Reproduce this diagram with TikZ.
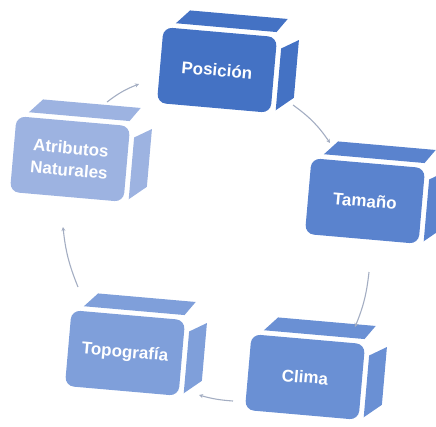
\documentclass[tikz,border=0pt]{standalone}
\usepackage{fontspec}
\setmainfont{Liberation Sans}
\usepackage{xcolor}
\usepackage{tikz}
\usetikzlibrary{arrows.meta}

\definecolor{posblue}{HTML}{4472C4}
\definecolor{tamblue}{HTML}{5A83CE}
\definecolor{climablue}{HTML}{6A90D4}
\definecolor{topoblue}{HTML}{7F9FDA}
\definecolor{atribblue}{HTML}{9DB3E1}
\definecolor{flowgrey}{HTML}{A3ADC2}

\tikzset{
  boxfront/.style={rounded corners=9pt, minimum width=114pt, minimum height=76pt,
    inner sep=0pt, align=center, text=white,
    font=\fontsize{17}{22}\selectfont\bfseries},
  flow/.style={draw=flowgrey, line width=1.1pt, -{Stealth[length=4pt,width=4pt]}}
}

% one block: name, centre, colour, text
\newcommand{\blockcube}[4]{%
  \begin{scope}[shift={#2}, rotate=-5, transform shape]
    \node [boxfront, fill=#3] (#1) at (0,0) {#4};
    \fill [#3] (-45,-43) -- (56,-43) -- (66,-57) -- (-32,-57) -- cycle;
    \fill [#3] (62,-27) -- (79,-37) -- (79,21) -- (62,35) -- cycle;
  \end{scope}}

\begin{document}
\begin{tikzpicture}[x=1pt, y=-1pt]

\useasboundingbox (0,0) rectangle (436,426);

% blocks

\blockcube{pos}{(217,70)}{posblue}{Posición}
\blockcube{tam}{(365,201)}{tamblue}{Tamaño}
\blockcube{clima}{(305,377)}{climablue}{Clima}
\blockcube{topo}{(125,353)}{topoblue}{Topografía}
\blockcube{atrib}{(70,159)}{atribblue}{Atributos\\Naturales}

% cycle arrows

\coordinate (pos out) at (293,105);
\coordinate (tam in) at (330,143);
\coordinate (tam out) at (369,272);
\coordinate (clima in) at (355,327);
\coordinate (clima out) at (233,401);
\coordinate (topo in) at (199,395);
\coordinate (topo out) at (78,287);
\coordinate (atrib in) at (63,227);
\coordinate (atrib out) at (107,102);
\coordinate (pos in) at (139,84);

\path [flow] (pos out) to [bend left=10] (tam in);
\path [flow] (tam out) to [bend left=8] (clima in);
\path [flow] (clima out) to [bend left=6] (topo in);
\path [flow] (topo out) to [bend left=8] (atrib in);
\path [flow] (atrib out) to [bend left=8] (pos in);

\end{tikzpicture}
\end{document}
